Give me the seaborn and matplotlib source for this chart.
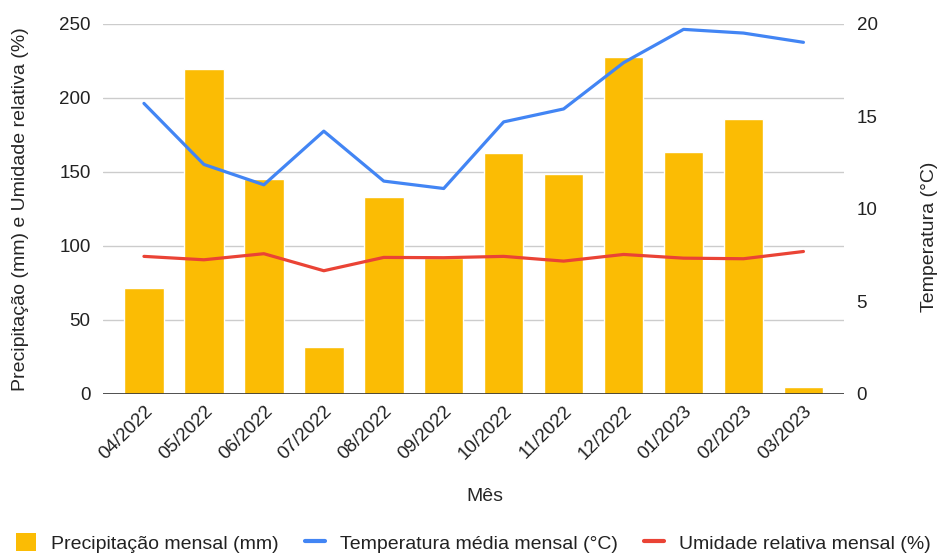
import pandas as pd
import numpy as np
import matplotlib
matplotlib.use("Agg")
import matplotlib.pyplot as plt
import seaborn as sns
from matplotlib.patches import Patch
from matplotlib.lines import Line2D

# Data
meses = ['04/2022', '05/2022', '06/2022', '07/2022', '08/2022', '09/2022',
         '10/2022', '11/2022', '12/2022', '01/2023', '02/2023', '03/2023']
precipitacao = [71.5, 219.5, 145.2, 32.0, 133.0, 92.0, 162.7, 148.5, 227.4, 163.6, 185.7, 4.5]
temperatura = [15.7, 12.4, 11.3, 14.2, 11.5, 11.1, 14.7, 15.4, 17.9, 19.7, 19.5, 19.0]
umidade = [92.9, 90.6, 94.7, 83.2, 92.2, 92.0, 92.9, 89.7, 94.2, 91.7, 91.3, 96.2]

AMARELO = '#FBBC04'
AZUL = '#4285F4'
VERMELHO = '#EA4335'

df = pd.DataFrame({'Mês': meses, 'Precipitação': precipitacao,
                   'Temperatura': temperatura, 'Umidade': umidade})

sns.set_style('white')
plt.rcParams['font.family'] = ['Liberation Sans', 'DejaVu Sans']
plt.rcParams['text.color'] = '#222222'

fig, ax = plt.subplots(figsize=(9.38, 5.54), dpi=100)
fig.subplots_adjust(left=0.110, right=0.900, top=0.957, bottom=0.289)

# Bars - precipitation
sns.barplot(data=df, x='Mês', y='Precipitação', color=AMARELO, width=0.66,
            saturation=1, ax=ax, zorder=2)
# Red line - humidity (left axis)
sns.lineplot(data=df, x='Mês', y='Umidade', color=VERMELHO, linewidth=2.3,
             ax=ax, zorder=3, sort=False)

# Blue line - temperature (right axis)
ax2 = ax.twinx()
sns.lineplot(data=df, x='Mês', y='Temperatura', color=AZUL, linewidth=2.3,
             ax=ax2, zorder=3, sort=False)

ax.set_xlim(-0.68, 11.68)
ax.set_ylim(0, 250)
ax2.set_ylim(0, 20)
ax.set_yticks([0, 50, 100, 150, 200, 250])
ax2.set_yticks([0, 5, 10, 15, 20])

ax.yaxis.grid(True, color='#CCCCCC', linewidth=1)
ax.set_axisbelow(True)
for a in (ax, ax2):
    for s in ['top', 'left', 'right', 'bottom']:
        a.spines[s].set_visible(False)
    a.tick_params(axis='y', length=0, labelsize=13.5, pad=9, labelcolor='#222222')
ax.axhline(0, color='#333333', linewidth=1.2, zorder=4)

ax.tick_params(axis='x', length=0, labelsize=13.5, pad=6, labelcolor='#222222')
plt.setp(ax.get_xticklabels(), rotation=45, ha='right', rotation_mode='anchor')

ax.set_xlabel('Mês', fontsize=14, va='center')
ax.xaxis.set_label_coords(0.5155, -0.278)
ax.set_ylabel('Precipitação (mm) e Umidade relativa (%)', fontsize=14, va='center')
ax.yaxis.set_label_coords(-0.112, 0.5)
ax2.set_ylabel('Temperatura (°C)', fontsize=14, va='center')
ax2.yaxis.set_label_coords(1.115, 0.424)

handles = [
    Patch(facecolor=AMARELO, edgecolor='none'),
    Line2D([0], [0], color=AZUL, linewidth=3),
    Line2D([0], [0], color=VERMELHO, linewidth=3),
]
labels = ['Precipitação mensal (mm)', 'Temperatura média mensal (°C)',
          'Umidade relativa mensal (%)']
fig.legend(handles, labels, loc='center', bbox_to_anchor=(0.5048, 0.02),
           ncol=3, frameon=False, fontsize=14, handlelength=1.03, handleheight=1.03,
           handletextpad=0.77, columnspacing=1.34, borderaxespad=0)

fig.savefig('out.png', dpi=100)
